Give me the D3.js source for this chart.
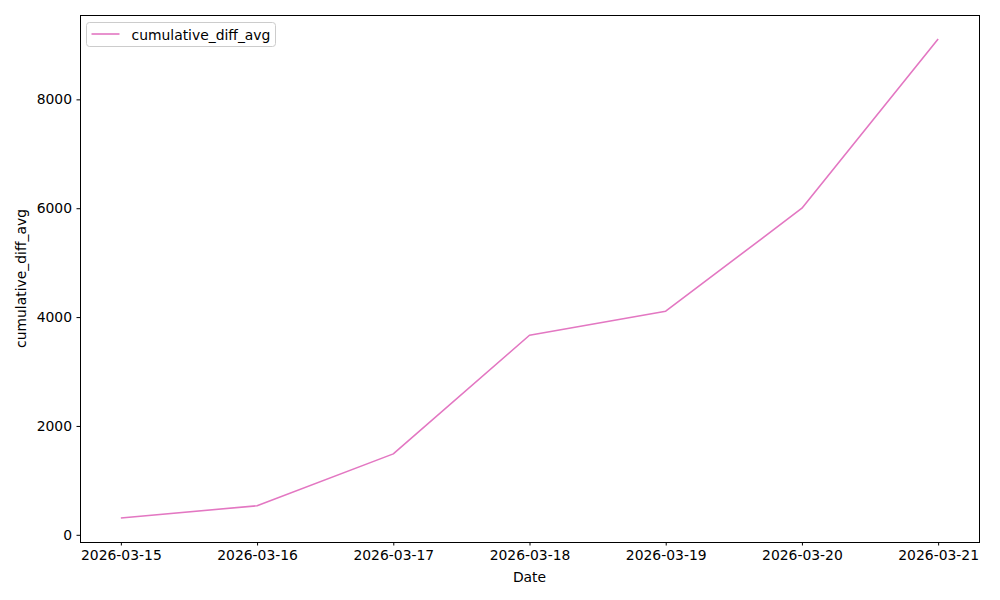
<!doctype html>
<html lang="en">
<head>
<meta charset="UTF-8">
<title>cumulative_diff_avg</title>
<script src="https://d3js.org/d3.v7.min.js"></script>
<style>
body { margin: 0; background: #ffffff; font-family: "DejaVu Sans", sans-serif; }
svg { display: block; }
.axis path, .axis line { stroke: #000; stroke-width: 1; }
.axis text { font-family: "DejaVu Sans", sans-serif; font-size: 13.9px; fill: #000; }
</style>
</head>
<body>
<div id="plot"></div>
<script>

var dates = ["2026-03-15", "2026-03-16", "2026-03-17", "2026-03-18", "2026-03-19", "2026-03-20", "2026-03-21"];
var values = [308, 534, 1487, 3666, 4108, 6000, 9110];
var yTicks = [0, 2000, 4000, 6000, 8000];

var width = 1000, height = 600;
var padLeft = 80, padRight = 979, padTop = 15, padBottom = 542;

var parse = d3.utcParse("%Y-%m-%d");
var data = dates.map(function (d, i) { return { date: parse(d), value: values[i] }; });

var svg = d3.select("#plot").append("svg")
	.attr("width", width)
	.attr("height", height);

var xMin = data[0].date, xMax = data[data.length - 1].date;
var xPad = (xMax - xMin) * 0.05;
var xScale = d3.scaleUtc()
	.domain([new Date(+xMin - xPad), new Date(+xMax + xPad)])
	.range([padLeft, padRight]);

var yLo = d3.min(values), yHi = d3.max(values);
var yPad = (yHi - yLo) * 0.05;
var yScale = d3.scaleLinear()
	.domain([yLo - yPad, yHi + yPad])
	.range([padBottom, padTop]);

var fmt = d3.utcFormat("%Y-%m-%d");

svg.append("g")
	.attr("class", "axis")
	.attr("transform", "translate(0," + padBottom + ")")
	.call(d3.axisBottom(xScale).tickValues(data.map(function (d) { return d.date; }))
		.tickFormat(fmt).tickSizeInner(3.5).tickSizeOuter(0).tickPadding(4.5))
	.select(".domain").remove();

svg.append("g")
	.attr("class", "axis")
	.attr("transform", "translate(" + padLeft + ",0)")
	.call(d3.axisLeft(yScale).tickValues(yTicks).tickFormat(d3.format("d"))
		.tickSizeInner(3.5).tickSizeOuter(0).tickPadding(4.5))
	.select(".domain").remove();

// frame
svg.append("rect")
	.attr("x", padLeft + 0.5).attr("y", padTop + 0.5)
	.attr("width", padRight - padLeft).attr("height", padBottom - padTop)
	.attr("fill", "none").attr("stroke", "#000").attr("stroke-width", 1);

var line = d3.line()
	.x(function (d) { return xScale(d.date); })
	.y(function (d) { return yScale(d.value); });

svg.append("path")
	.datum(data)
	.attr("d", line)
	.attr("fill", "none")
	.attr("stroke", "#e377c2")
	.attr("stroke-width", 1.6)
	.attr("stroke-linejoin", "round");

// axis labels
svg.append("text")
	.attr("x", (padLeft + padRight) / 2)
	.attr("y", 582)
	.attr("text-anchor", "middle")
	.style("font-size", "13.9px")
	.text("Date");

svg.append("text")
	.attr("transform", "translate(26," + ((padTop + padBottom) / 2) + ") rotate(-90)")
	.attr("text-anchor", "middle")
	.style("font-size", "13.9px")
	.text("cumulative_diff_avg");

// legend
var lg = svg.append("g").attr("transform", "translate(86.5,22.5)");
lg.append("rect")
	.attr("width", 189).attr("height", 24).attr("rx", 3)
	.attr("fill", "#fff").attr("stroke", "#ccc").attr("stroke-width", 1);
lg.append("line")
	.attr("x1", 5).attr("x2", 33).attr("y1", 11.5).attr("y2", 11.5)
	.attr("stroke", "#e377c2").attr("stroke-width", 1.6);
lg.append("text")
	.attr("x", 45).attr("y", 17)
	.style("font-size", "13.9px")
	.text("cumulative_diff_avg");

</script>
</body>
</html>
